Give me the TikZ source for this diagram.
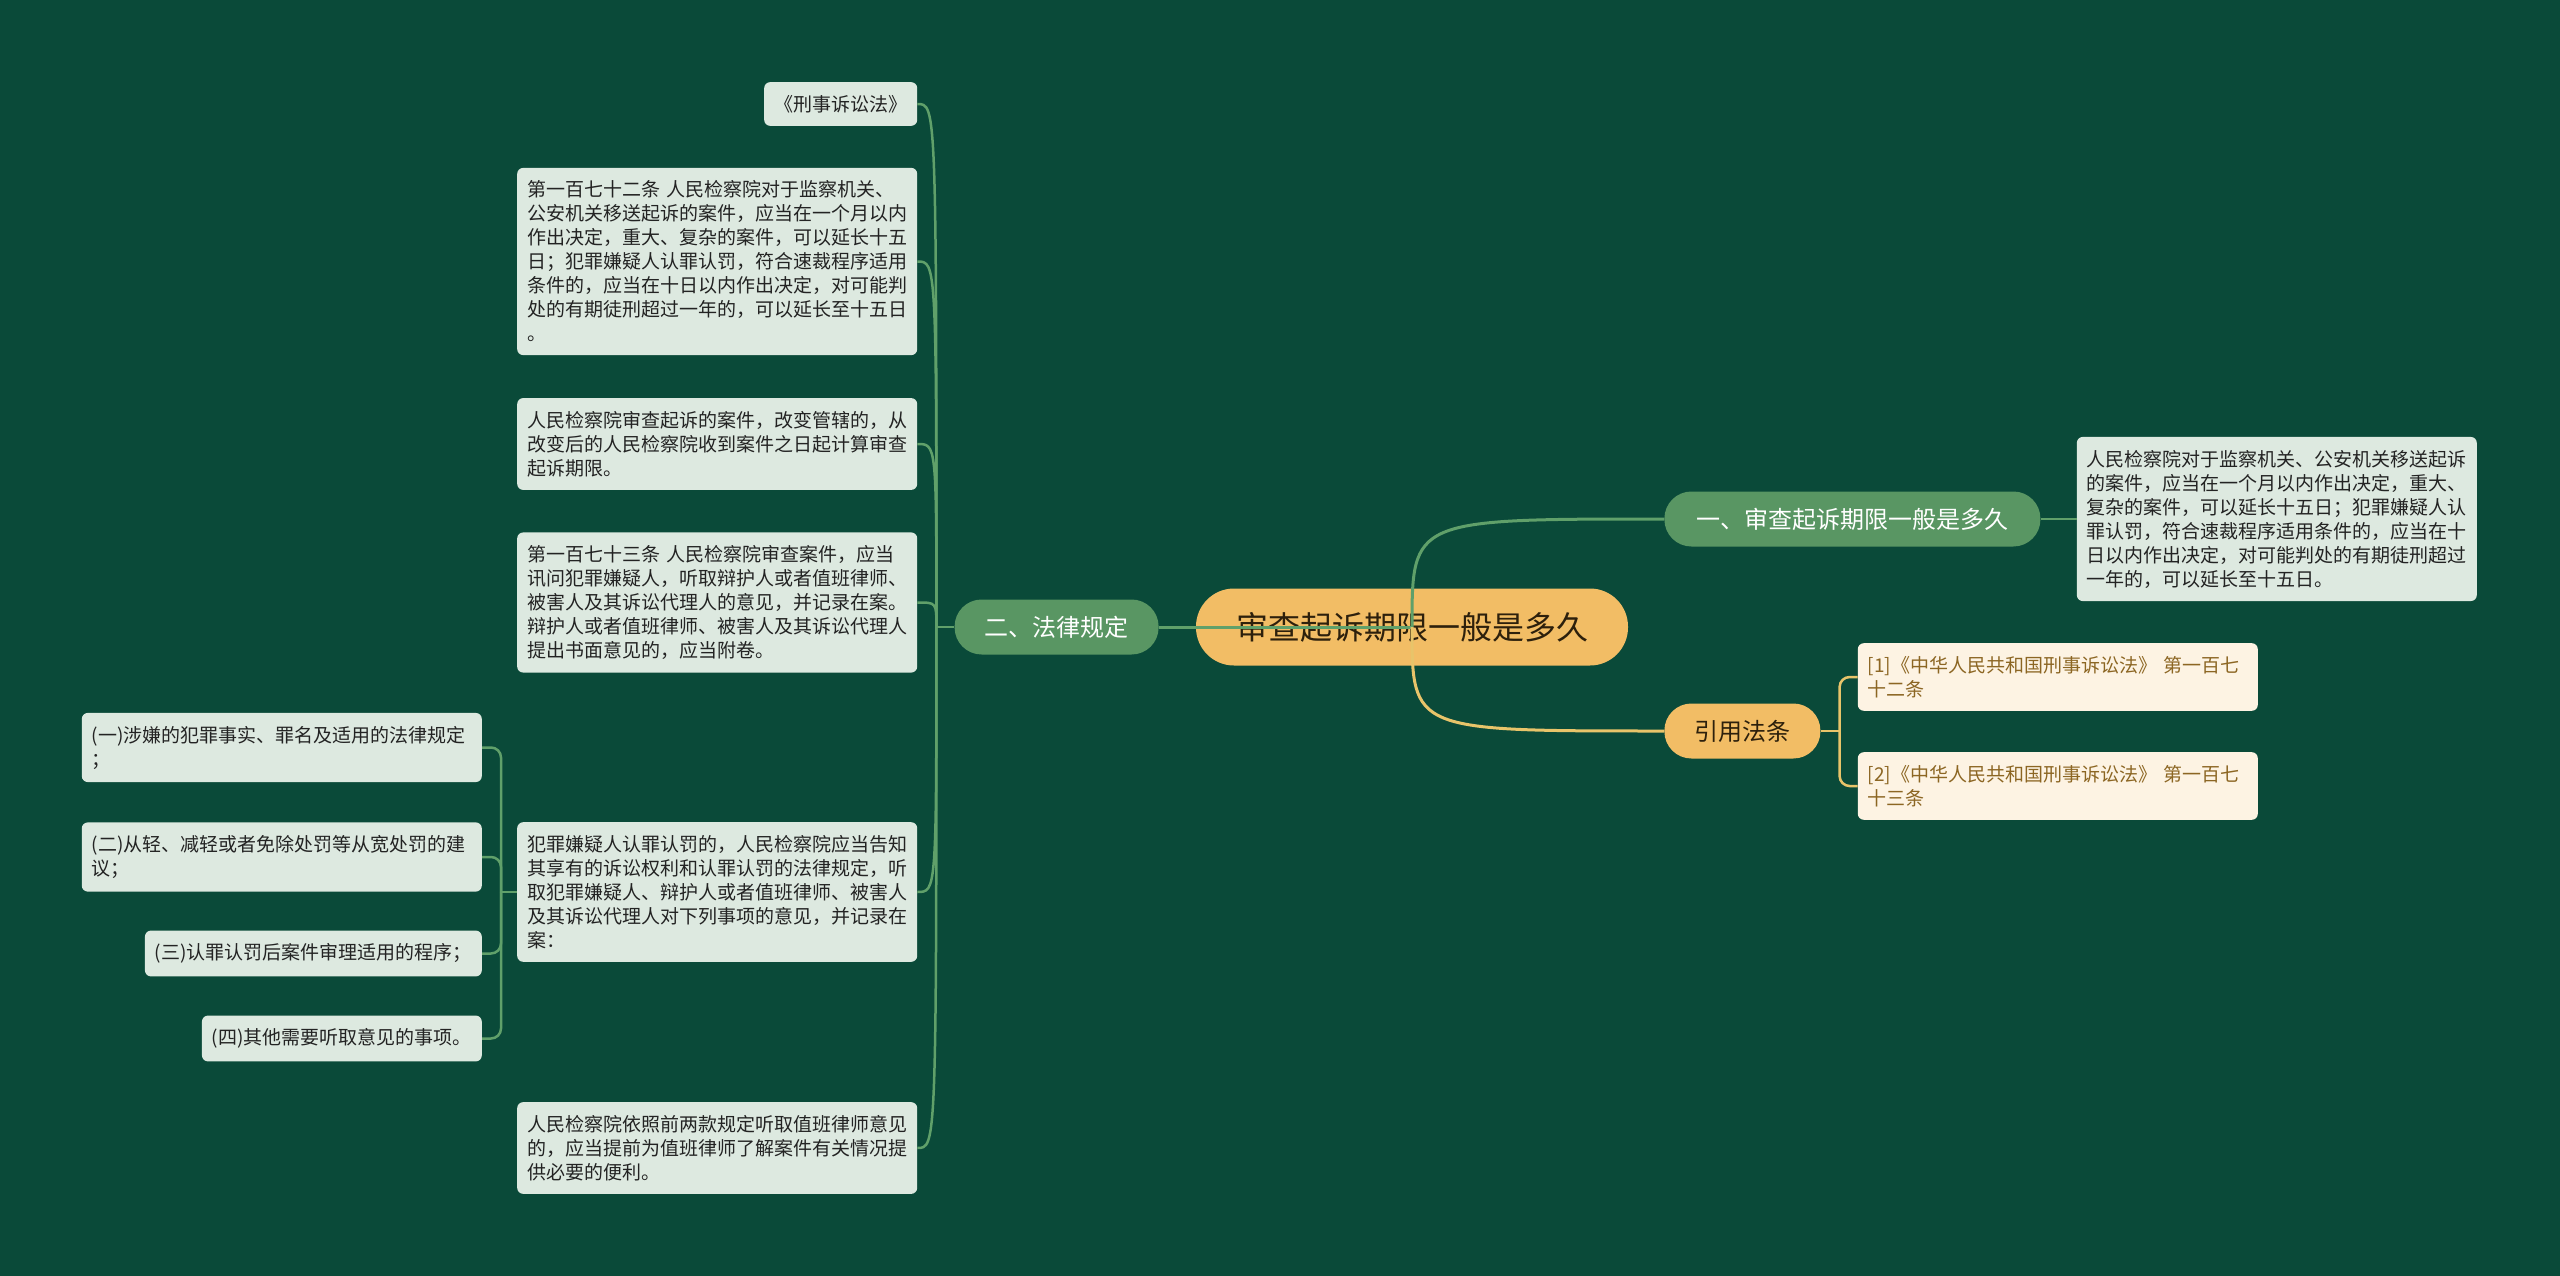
\documentclass[tikz,border=0pt]{standalone}
\usepackage{fontspec}
\newfontfamily\cjk{Noto Sans CJK SC}
\usepackage{tikz}
\usetikzlibrary{positioning}
\definecolor{mapbg}{RGB}{10,74,57}
\definecolor{rootfill}{RGB}{242,189,101}
\definecolor{rootink}{RGB}{45,32,12}
\definecolor{branchgreen}{RGB}{89,150,99}
\definecolor{leaffill}{RGB}{221,233,224}
\definecolor{leafink}{RGB}{35,35,35}
\definecolor{citefill}{RGB}{253,243,227}
\definecolor{citeink}{RGB}{140,102,35}
\definecolor{greenline}{RGB}{96,160,106}
\definecolor{goldline}{RGB}{232,196,106}

\begin{document}
\begin{tikzpicture}[x=1pt, y=-1pt,
  rootnode/.style={rectangle, rounded corners=38pt,
    fill=rootfill, text=rootink,
    minimum height=77pt, inner xsep=40pt,
    font=\cjk\fontsize{32}{38}\selectfont},
  branch/.style={rectangle, rounded corners=27pt,
    fill=branchgreen, text=white,
    minimum height=55pt, inner xsep=30pt,
    font=\cjk\fontsize{24}{28}\selectfont},
  refbranch/.style={branch, fill=rootfill, text=rootink},
  leaf/.style={rectangle, rounded corners=6pt,
    fill=leaffill, text=leafink, align=left,
    inner xsep=10pt, inner ysep=13pt,
    font=\cjk\fontsize{19}{24}\selectfont},
  fullwidth/.style={text width=380pt},
  cite/.style={leaf, fullwidth, fill=citefill, text=citeink},
  link/.style={greenline, line width=2.5pt},
  bracket/.style={link, rounded corners=10pt},
  mainlink/.style={greenline, line width=3pt}
]
\fill[mapbg] (0,0) rectangle (2560,1276);
\useasboundingbox (0,0) rectangle (2560,1276);

% Centre topic and its three branches
\node[rootnode] (root) at (1412,627) {审查起诉期限一般是多久};
\node[branch, left=37pt of root] (law) {二、法律规定};
\node[branch, inner xsep=32pt, right=36pt of root, yshift=108pt] (period)
  {一、审查起诉期限一般是多久};
\node[refbranch, right=36pt of root, yshift=-104pt] (refs) {引用法条};

% Right side: answer and cited articles
\node[leaf, fullwidth, right=36pt of period] (R1)
  {人民检察院对于监察机关、公安机关移送起诉\\
   的案件，应当在一个月以内作出决定，重大、\\
   复杂的案件，可以延长十五日；犯罪嫌疑人认\\
   罪认罚，符合速裁程序适用条件的，应当在十\\
   日以内作出决定，对可能判处的有期徒刑超过\\
   一年的，可以延长至十五日。};
\node[cite, right=37pt of refs, yshift=54pt] (C1)
  {[1]《中华人民共和国刑事诉讼法》~第一百七\\十二条};
\node[cite, right=37pt of refs, yshift=-55pt] (C2)
  {[2]《中华人民共和国刑事诉讼法》~第一百七\\十三条};

% Left side: legal provisions
\node[leaf, left=37pt of law, yshift=523pt] (L1) {《刑事诉讼法》};
\node[leaf, fullwidth, left=37pt of law, yshift=365.5pt] (L2)
  {第一百七十二条~人民检察院对于监察机关、\\
   公安机关移送起诉的案件，应当在一个月以内\\
   作出决定，重大、复杂的案件，可以延长十五\\
   日；犯罪嫌疑人认罪认罚，符合速裁程序适用\\
   条件的，应当在十日以内作出决定，对可能判\\
   处的有期徒刑超过一年的，可以延长至十五日\\
   。};
\node[leaf, fullwidth, left=37pt of law, yshift=183pt] (L3)
  {人民检察院审查起诉的案件，改变管辖的，从\\
   改变后的人民检察院收到案件之日起计算审查\\
   起诉期限。};
\node[leaf, fullwidth, left=37pt of law, yshift=24.5pt] (L4)
  {第一百七十三条~人民检察院审查案件，应当\\
   讯问犯罪嫌疑人，听取辩护人或者值班律师、\\
   被害人及其诉讼代理人的意见，并记录在案。\\
   辩护人或者值班律师、被害人及其诉讼代理人\\
   提出书面意见的，应当附卷。};
\node[leaf, fullwidth, left=37pt of law, yshift=-265pt] (L5)
  {犯罪嫌疑人认罪认罚的，人民检察院应当告知\\
   其享有的诉讼权利和认罪认罚的法律规定，听\\
   取犯罪嫌疑人、辩护人或者值班律师、被害人\\
   及其诉讼代理人对下列事项的意见，并记录在\\
   案：};
\node[leaf, fullwidth, left=37pt of law, yshift=-521pt] (L6)
  {人民检察院依照前两款规定听取值班律师意见\\
   的，应当提前为值班律师了解案件有关情况提\\
   供必要的便利。};

% Items listed under L5
\node[leaf, fullwidth, left=35pt of L5, yshift=144.5pt] (S1)
  {(一)涉嫌的犯罪事实、罪名及适用的法律规定\\；};
\node[leaf, fullwidth, left=35pt of L5, yshift=35pt] (S2)
  {(二)从轻、减轻或者免除处罚等从宽处罚的建\\议；};
\node[leaf, left=35pt of L5, yshift=-61.5pt] (S3)
  {(三)认罪认罚后案件审理适用的程序；};
\node[leaf, left=35pt of L5, yshift=-146.5pt] (S4)
  {(四)其他需要听取意见的事项。};

% Fork points of the brackets
\coordinate[left=18pt of law] (lawfork);
\coordinate[left=16pt of L5] (itemfork);
\coordinate[right=19pt of refs] (reffork);

% Connectors
\draw[mainlink] (root.center) -- (law.east);
\draw[mainlink] (root.center) .. controls (root.center |- period.west) .. (period.west);
\draw[mainlink, goldline] (root.center) .. controls (root.center |- refs.west) .. (refs.west);
\draw[link] (period.east) -- (R1.west);

\draw[link, goldline] (refs.east) -- (reffork);
\draw[bracket, goldline] (reffork) |- (C1.west);
\draw[bracket, goldline] (reffork) |- (C2.west);

\draw[link] (law.west) -- (lawfork);
\draw[link] (lawfork) .. controls (lawfork |- L1.east) .. (L1.east);
\draw[link] (lawfork) .. controls (lawfork |- L2.east) .. (L2.east);
\draw[link] (lawfork) .. controls (lawfork |- L3.east) .. (L3.east);
\draw[link] (lawfork) .. controls (lawfork |- L4.east) .. (L4.east);
\draw[link] (lawfork) .. controls (lawfork |- L5.east) .. (L5.east);
\draw[link] (lawfork) .. controls (lawfork |- L6.east) .. (L6.east);

\draw[link] (L5.west) -- (itemfork);
\draw[bracket] (itemfork) |- (S1.east);
\draw[bracket] (itemfork) |- (S2.east);
\draw[bracket] (itemfork) |- (S3.east);
\draw[bracket] (itemfork) |- (S4.east);
\end{tikzpicture}
\end{document}
